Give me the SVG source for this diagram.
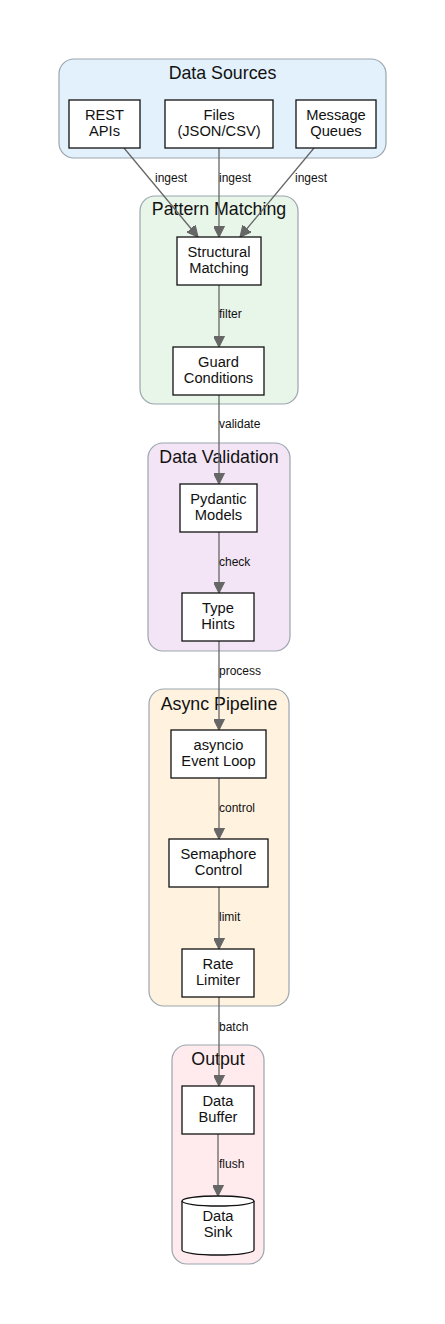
<svg xmlns="http://www.w3.org/2000/svg" width="445" height="1324" viewBox="0 0 445 1324">
<defs>
<style>
.cl{stroke:#9aa5ae;stroke-width:1.2}
.ct{font-family:"Liberation Sans",Arial,sans-serif;font-size:17.8px;fill:#111;text-anchor:middle}
.nd{fill:#fff;stroke:#111;stroke-width:1.3}
.nt{font-family:"Liberation Sans",Arial,sans-serif;font-size:14.7px;fill:#111;text-anchor:middle}
.ed{stroke:#666;stroke-width:1.3;fill:none}
.el{font-family:"Liberation Sans",Arial,sans-serif;font-size:12px;fill:#111}
</style>
<marker id="ah" markerUnits="userSpaceOnUse" markerWidth="11" markerHeight="11" viewBox="0 0 10 10" refX="10" refY="5" orient="auto">
<path d="M0,0 L10,5 L0,10 z" fill="#666" stroke="#666"/>
</marker>
</defs>
<rect width="445" height="1324" fill="#fff"/>

<g id="cluster_sources">
<rect class="cl" x="59" y="59" width="327" height="99" rx="15" fill="#e3f1fd"/>
<text class="ct" x="222.5" y="79">Data Sources</text>
</g>
<g id="cluster_pattern">
<rect class="cl" x="140" y="196" width="158" height="208" rx="15" fill="#e8f5e9"/>
<text class="ct" x="219" y="215">Pattern Matching</text>
</g>
<g id="cluster_validation">
<rect class="cl" x="148" y="443" width="142" height="208" rx="15" fill="#f3e5f5"/>
<text class="ct" x="219" y="463">Data Validation</text>
</g>
<g id="cluster_async">
<rect class="cl" x="149" y="689" width="140" height="317" rx="15" fill="#fff3e0"/>
<text class="ct" x="219" y="710">Async Pipeline</text>
</g>
<g id="cluster_output">
<rect class="cl" x="172" y="1045" width="92" height="219" rx="15" fill="#ffebee"/>
<text class="ct" x="218" y="1065">Output</text>
</g>

<g id="connectors">
<line class="ed" x1="124" y1="148" x2="198" y2="237" marker-end="url(#ah)"/>
<text class="el" x="155" y="182">ingest</text>
<line class="ed" x1="219" y1="148" x2="219" y2="237" marker-end="url(#ah)"/>
<text class="el" x="219" y="182">ingest</text>
<line class="ed" x1="314" y1="148" x2="240" y2="237" marker-end="url(#ah)"/>
<text class="el" x="295" y="182">ingest</text>
<line class="ed" x1="219" y1="285" x2="219" y2="347" marker-end="url(#ah)"/>
<text class="el" x="219" y="318">filter</text>
<line class="ed" x1="219" y1="395" x2="219" y2="484" marker-end="url(#ah)"/>
<text class="el" x="219" y="428">validate</text>
<line class="ed" x1="219" y1="532" x2="219" y2="593" marker-end="url(#ah)"/>
<text class="el" x="219" y="566">check</text>
<line class="ed" x1="219" y1="641" x2="219" y2="730" marker-end="url(#ah)"/>
<text class="el" x="219" y="675">process</text>
<line class="ed" x1="219" y1="778" x2="219" y2="839" marker-end="url(#ah)"/>
<text class="el" x="219" y="812">control</text>
<line class="ed" x1="219" y1="887" x2="219" y2="949" marker-end="url(#ah)"/>
<text class="el" x="219" y="921">limit</text>
<line class="ed" x1="219" y1="997" x2="219" y2="1086" marker-end="url(#ah)"/>
<text class="el" x="219" y="1031">batch</text>
<line class="ed" x1="218" y1="1134" x2="218" y2="1196" marker-end="url(#ah)"/>
<text class="el" x="219" y="1168">flush</text>
</g>

<g id="rest">
<rect class="nd" x="69" y="100" width="71" height="48"/>
<text class="nt" x="104.5" y="120">REST</text>
<text class="nt" x="104.5" y="136">APIs</text>
</g>
<g id="files">
<rect class="nd" x="165" y="100" width="108" height="48"/>
<text class="nt" x="219" y="120">Files</text>
<text class="nt" x="219" y="136">(JSON/CSV)</text>
</g>
<g id="mq">
<rect class="nd" x="296" y="100" width="80" height="48"/>
<text class="nt" x="336" y="120">Message</text>
<text class="nt" x="336" y="136">Queues</text>
</g>
<g id="structural">
<rect class="nd" x="177" y="237" width="84" height="48"/>
<text class="nt" x="219" y="257">Structural</text>
<text class="nt" x="219" y="273">Matching</text>
</g>
<g id="guard">
<rect class="nd" x="173" y="347" width="91" height="48"/>
<text class="nt" x="218.5" y="367">Guard</text>
<text class="nt" x="218.5" y="383">Conditions</text>
</g>
<g id="pydantic">
<rect class="nd" x="180" y="484" width="77" height="48"/>
<text class="nt" x="218.5" y="504">Pydantic</text>
<text class="nt" x="218.5" y="520">Models</text>
</g>
<g id="typehints">
<rect class="nd" x="182" y="593" width="72" height="48"/>
<text class="nt" x="218" y="613">Type</text>
<text class="nt" x="218" y="629">Hints</text>
</g>
<g id="eventloop">
<rect class="nd" x="171" y="730" width="95" height="48"/>
<text class="nt" x="218.5" y="750">asyncio</text>
<text class="nt" x="218.5" y="766">Event Loop</text>
</g>
<g id="semaphore">
<rect class="nd" x="169" y="839" width="99" height="48"/>
<text class="nt" x="218.5" y="859">Semaphore</text>
<text class="nt" x="218.5" y="875">Control</text>
</g>
<g id="ratelimiter">
<rect class="nd" x="182" y="949" width="72" height="48"/>
<text class="nt" x="218" y="969">Rate</text>
<text class="nt" x="218" y="985">Limiter</text>
</g>
<g id="buffer">
<rect class="nd" x="182" y="1086" width="72" height="48"/>
<text class="nt" x="218" y="1106">Data</text>
<text class="nt" x="218" y="1122">Buffer</text>
</g>
<g id="sink">
<path class="nd" d="M182,1201 A36,5 0 0 1 254,1201 L254,1250 A36,5 0 0 1 182,1250 Z"/>
<path class="nd" fill="none" d="M182,1201 A36,5 0 0 0 254,1201"/>
<text class="nt" x="218" y="1221">Data</text>
<text class="nt" x="218" y="1237">Sink</text>
</g>
</svg>
